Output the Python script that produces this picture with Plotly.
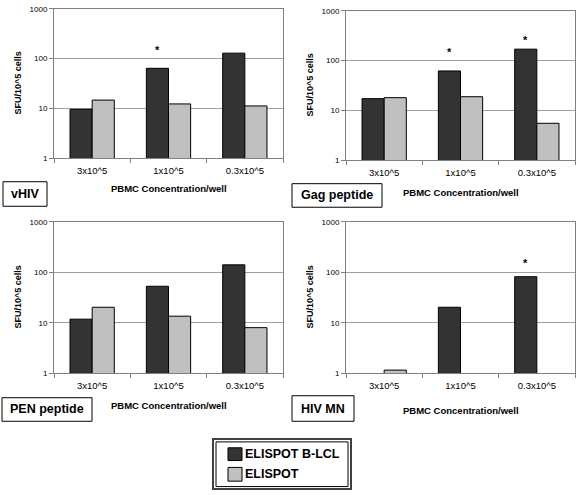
import math
import plotly.graph_objects as go

W, H = 576, 495

categories = ["3x10^5", "1x10^5", "0.3x10^5"]
tick_vals = [1, 10, 100, 1000]
tick_text = ["1", "10", "100", "1000"]

vhiv_blcl = [9.6, 64, 129]
vhiv_elispot = [14.7, 12.3, 11.2]
gag_blcl = [17.2, 62, 170]
gag_elispot = [18.0, 18.8, 5.5]
pen_blcl = [11.8, 53, 141]
pen_elispot = [20.3, 13.5, 8.0]
hivmn_blcl = [None, 20.3, 82]
hivmn_elispot = [1.15, None, None]

panel_names = ["vHIV", "Gag peptide", "PEN peptide", "HIV MN"]
series_names = ["ELISPOT B-LCL", "ELISPOT"]
# significance stars: (panel index, category, star level)
stars = [(0, "1x10^5", 148), (1, "1x10^5", 148), (1, "0.3x10^5", 265), (3, "0.3x10^5", 150)]

DARK = "#333333"
LIGHT = "#c0c0c0"
FONT = "Liberation Sans, Arial, sans-serif"

panels = [
    (vhiv_blcl, vhiv_elispot),
    (gag_blcl, gag_elispot),
    (pen_blcl, pen_elispot),
    (hivmn_blcl, hivmn_elispot),
]

def px_x(p):
    return p / W

def px_y(p):
    return 1 - p / H

# plot-area pixel boxes (x0, x1, ytop, ybottom)
boxes = [
    (54, 283, 5, 157),
    (346, 575, 7, 159),
    (54, 283, 222, 376),
    (346, 575, 222, 376),
]

fig = go.Figure()
layout = dict(
    width=W, height=H,
    margin=dict(l=0, r=0, t=0, b=0),
    paper_bgcolor="white", plot_bgcolor="white",
    barmode="group", bargap=0.42, bargroupgap=0,
    showlegend=False,
    font=dict(family=FONT, color="black"),
)

annotations = []
shapes = []

for i, (blcl, eli) in enumerate(panels):
    n = i + 1
    xa = "x" if n == 1 else f"x{n}"
    ya = "y" if n == 1 else f"y{n}"
    for vals, color, name in [(blcl, DARK, series_names[0]), (eli, LIGHT, series_names[1])]:
        fig.add_trace(go.Bar(
            x=categories, y=vals, name=name, xaxis=xa, yaxis=ya,
            marker=dict(color=color, line=dict(color="black", width=1)),
            showlegend=False,
        ))
    x0, x1, yt, yb = boxes[i]
    layout["xaxis" if n == 1 else f"xaxis{n}"] = dict(
        domain=[px_x(x0), px_x(x1)], anchor=ya,
        type="category", categoryorder="array", categoryarray=categories,
        showline=True, linecolor="#808080", linewidth=1, mirror=True,
        ticks="outside", tickson="boundaries", ticklen=4, tickcolor="#808080",
        ticklabelstandoff=3,
        tickfont=dict(size=9.5, family=FONT, color="black"),
        showgrid=False, fixedrange=True,
    )
    layout["yaxis" if n == 1 else f"yaxis{n}"] = dict(
        domain=[px_y(yb), px_y(yt)], anchor=xa,
        type="log", range=[0, 3],
        tickvals=tick_vals, ticktext=tick_text,
        showline=True, linecolor="#808080", linewidth=1, mirror=True,
        ticks="outside", ticklen=4, tickcolor="#808080",
        tickfont=dict(size=8, family=FONT, color="black"),
        showgrid=True, gridcolor="#a0a0a0", gridwidth=1,
        zeroline=False, fixedrange=True,
    )
    # axis titles
    cx = (x0 + x1) / 2
    annotations.append(dict(
        text="<b>PBMC Concentration/well</b>", xref="paper", yref="paper",
        x=px_x(cx), y=px_y([188, 192, 409, 414][i]), showarrow=False,
        font=dict(size=9.5, family=FONT), xanchor="center", yanchor="middle",
    ))
    annotations.append(dict(
        text="<b>SFU/10^5 cells</b>", xref="paper", yref="paper",
        x=px_x(x0 - 36), y=px_y((yt + yb) / 2), showarrow=False, textangle=-90,
        font=dict(size=9, family=FONT), xanchor="center", yanchor="middle",
    ))

# panel name boxes
name_boxes = [(3, 47, 181, 206), (292, 382, 183, 207), (2, 92, 401, 425), (292, 354, 399, 425)]
for name, (bx0, bx1, by0, by1) in zip(panel_names, name_boxes):
    shapes.append(dict(type="rect", xref="paper", yref="paper",
                       x0=px_x(bx0), x1=px_x(bx1), y0=px_y(by1), y1=px_y(by0),
                       line=dict(color="black", width=1), fillcolor="white"))
    annotations.append(dict(
        text=f"<b>{name}</b>", xref="paper", yref="paper",
        x=px_x((bx0 + bx1) / 2), y=px_y((by0 + by1) / 2), showarrow=False,
        font=dict(size=12.5, family=FONT), xanchor="center", yanchor="middle",
    ))

# stars
for pi, cat, lvl in stars:
    n = pi + 1
    annotations.append(dict(
        text="<b>*</b>", xref="x" if n == 1 else f"x{n}", yref="y" if n == 1 else f"y{n}",
        x=cat, y=math.log10(lvl), xshift=-11, showarrow=False,
        font=dict(size=11, family=FONT), xanchor="center", yanchor="middle",
    ))

# legend (manual)
shapes.append(dict(type="rect", xref="paper", yref="paper",
                   x0=px_x(213), x1=px_x(351), y0=px_y(494), y1=px_y(443),
                   line=dict(color="#404040", width=2), fillcolor="white"))
shapes.append(dict(type="rect", xref="paper", yref="paper",
                   x0=px_x(216), x1=px_x(348), y0=px_y(491.5), y1=px_y(446),
                   line=dict(color="black", width=1), fillcolor="white"))
for (sy0, sy1), color, name in [((452, 465), DARK, series_names[0]), ((472, 486), LIGHT, series_names[1])]:
    shapes.append(dict(type="rect", xref="paper", yref="paper",
                       x0=px_x(228), x1=px_x(242), y0=px_y(sy1), y1=px_y(sy0),
                       line=dict(color="black", width=1), fillcolor=color))
    annotations.append(dict(
        text=f"<b>{name}</b>", xref="paper", yref="paper",
        x=px_x(243), y=px_y((sy0 + sy1) / 2), showarrow=False,
        font=dict(size=12.5, family=FONT), xanchor="left", yanchor="middle",
    ))

layout["annotations"] = annotations
layout["shapes"] = shapes
fig.update_layout(**layout)
fig.write_html("out.html", config={"displayModeBar": False},
               post_script="document.body.style.margin='0';document.body.style.overflow='hidden';")
